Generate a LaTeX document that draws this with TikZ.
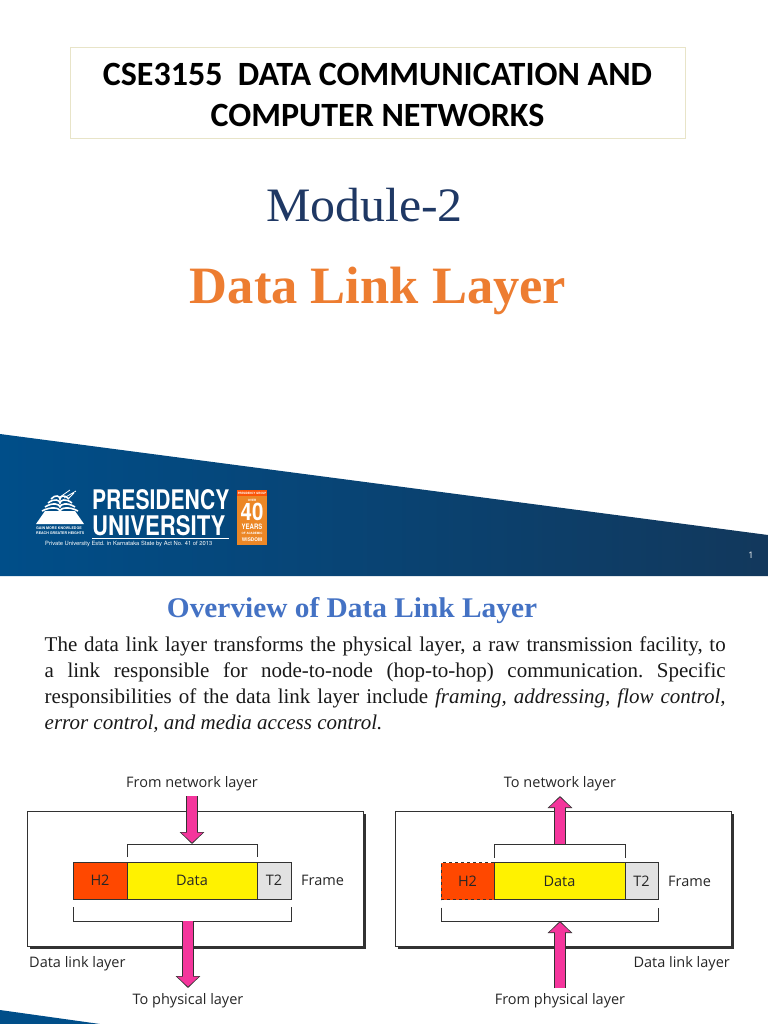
\documentclass[tikz,border=0pt]{standalone}
\usepackage{fontspec}
\setmainfont{Liberation Serif}
\newfontfamily\titlefont{Carlito}
\newfontfamily\labelfont{Open Sans}
\newfontfamily\logofont{TeX Gyre Heros}
\usetikzlibrary{arrows.meta, positioning}
\definecolor{bandleft}{RGB}{0,78,137}
\definecolor{bandright}{RGB}{18,56,92}
\definecolor{titleline}{RGB}{232,228,200}
\definecolor{headblue}{RGB}{68,114,196}
\definecolor{modblue}{RGB}{31,56,100}
\definecolor{layerorange}{RGB}{237,125,49}
\definecolor{logoorange}{RGB}{236,135,38}
\definecolor{arrowpink}{RGB}{244,54,156}
\definecolor{hredd}{RGB}{255,72,0}
\definecolor{tgray}{RGB}{226,226,226}
\definecolor{lineblack}{RGB}{50,50,50}
\newcommand{\logotext}[2]{\scalebox{#1}[1]{\logofont\bfseries #2}}

\begin{document}
\begin{tikzpicture}[
  x=1pt,
  y=-1pt,
  >=Stealth,
  frame cell/.style={
    draw=lineblack,
    line width=1pt,
    minimum height=37pt,
    inner sep=0pt,
    outer sep=0pt,
    text height=10.5pt,
    text depth=0pt,
    text=black!85,
    font=\labelfont\fontsize{14.5}{16}\selectfont
  },
  layer box/.style={
    draw=lineblack,
    fill=white,
    line width=1pt,
    minimum width=336pt,
    minimum height=135pt,
    inner sep=0pt,
    outer sep=0pt
  },
  layer shadow/.style={
    fill=lineblack,
    minimum width=336pt,
    minimum height=135pt,
    inner sep=0pt,
    outer sep=0pt
  },
  bracket line/.style={
    draw=lineblack,
    line width=0.9pt
  },
  block arrow/.style={
    draw=arrowpink,
    line width=9.6pt,
    shorten >=1.4pt,
    -{Triangle[length=10pt,width=21pt,fill=arrowpink]},
    preaction={
      draw=lineblack,
      line width=11.4pt,
      shorten >=0pt,
      -{Triangle[length=12pt,width=24pt,fill=lineblack]}
    }
  },
  layer label/.style={
    inner sep=0pt,
    text height=10.5pt,
    text depth=0pt,
    text=black!85,
    font=\labelfont\fontsize{14.5}{16}\selectfont
  },
  logo text/.style={
    inner sep=0pt,
    text=white
  }
]

\useasboundingbox (0,0) rectangle (768,1024);
\fill[white] (0,0) rectangle (768,1024);

\node[draw=titleline, line width=0.8pt, minimum width=615pt, minimum height=91pt, inner sep=0pt] (titlebox) at (377.5,92.5) {};
\node[align=center, inner sep=0pt, font=\titlefont\bfseries\fontsize{34}{41}\selectfont] (title) at (377.5,94.5)
  {CSE3155\ \ DATA COMMUNICATION AND\\COMPUTER NETWORKS};
\node[anchor=base, text=modblue, inner sep=0pt, font=\fontsize{48}{50}\selectfont] (module) at (364.5,222) {\scalebox{1.04}[1]{Module-2}};
\node[anchor=base, text=layerorange, inner sep=0pt, font=\bfseries\fontsize{52.5}{55}\selectfont] (layer) at (378,303) {Data Link Layer};

\shade[left color=bandleft, right color=bandright] (0,434) -- (768,535) -- (768,576) -- (0,576) -- cycle;
\node[text=white, inner sep=0pt, font=\labelfont\fontsize{9}{10}\selectfont] (page) at (751,555) {1};

\fill[white] (36,524) -- (84,524) -- (75,511) -- (45,511) -- cycle;
\foreach \ypos/\xhalf in {508/18, 504/15, 500/12, 496/9}
  \draw[white, line width=1.6pt] (60-\xhalf,\ypos+3) .. controls (60-\xhalf/2,\ypos-2) and (60,\ypos) .. (60,\ypos+3)
    .. controls (60,\ypos) and (60+\xhalf/2,\ypos-2) .. (60+\xhalf,\ypos+3);
\draw[white, line width=0.8pt] (64,498) -- (76,491) (68,499) -- (74,493) (60,497) -- (70,490);
\node[logo text, anchor=west, font=\fontsize{3.6}{4}\selectfont] (gain) at (36,528.5) {\logotext{1}{GAIN MORE KNOWLEDGE}};
\node[logo text, anchor=west, font=\fontsize{3.6}{4}\selectfont] (reach) at (36,533) {\logotext{1}{REACH GREATER HEIGHTS}};
\node[logo text, anchor=base west, font=\fontsize{27}{27}\selectfont] (presidency) at (92,509) {\logotext{0.78}{PRESIDENCY}};
\node[logo text, anchor=base west, font=\fontsize{27}{27}\selectfont] (university) at (92,535) {\logotext{0.82}{UNIVERSITY}};
\draw[white, line width=0.5pt] (92,538) -- (229,538);
\node[logo text, anchor=west, font=\logofont\fontsize{5.8}{6}\selectfont] (estd) at (45,543.5) {Private University Estd. in Karnataka State by Act No. 41 of 2013};
\fill[logoorange] (237,490) rectangle (267,545);
\fill[hredd!80!logoorange] (237,490) rectangle (267,496);
\node[logo text, font=\fontsize{3}{3.5}\selectfont] (group) at (252,493) {\logotext{0.9}{PRESIDENCY GROUP}};
\node[logo text, font=\fontsize{3}{3.5}\selectfont] (over) at (252,500) {\logotext{1}{OVER}};
\node[logo text, anchor=base, font=\fontsize{24}{24}\selectfont] (forty) at (252,520.5) {\logotext{0.85}{40}};
\node[logo text, anchor=base, font=\fontsize{7.5}{7.5}\selectfont] (years) at (252,529.5) {\logotext{0.8}{YEARS}};
\node[logo text, font=\fontsize{3}{3.5}\selectfont] (academic) at (252,533.5) {\logotext{1}{OF ACADEMIC}};
\node[logo text, anchor=base, font=\fontsize{5}{5}\selectfont] (wisdom) at (252,541) {\logotext{0.95}{WISDOM}};

\fill[bandleft] (0,1010) -- (100,1024) -- (0,1024) -- cycle;

\node[anchor=base, text=headblue, inner sep=0pt, font=\bfseries\fontsize{28.5}{30}\selectfont] (overview) at (352,617) {\scalebox{1.03}[1]{Overview of Data Link Layer}};
\node[anchor=north west, inner sep=0pt, text width=681pt, align=justify, text=black!90, font=\fontsize{21}{25.8}\selectfont] (para) at (44.5,637)
  {\frenchspacing The data link layer transforms the physical layer, a raw transmission facility, to\linebreak a link responsible for node-to-node (hop-to-hop) communication. Specific\linebreak responsibilities of the data link layer include \textit{framing, addressing, flow control,\linebreak error control, and media access control.}};

\node[layer shadow] (shadowA) at (198,881.5) {};
\node[layer box] (boxA) at (195,878.5) {};
\node[frame cell, fill=hredd, minimum width=54pt] (htwoA) at (100,880.5) {H2};
\node[frame cell, fill=yellow, minimum width=130pt, right=0pt of htwoA] (dataA) {Data};
\node[frame cell, fill=tgray, minimum width=34pt, right=0pt of dataA] (ttwoA) {T2};
\node[layer label, right=10pt of ttwoA] (frameA) {Frame};
\node[layer label] (fromnet) at (192,782.5) {From network layer};
\node[layer label, anchor=west] (linkA) at (29,962.5) {Data link layer};
\node[layer label] (tophys) at (188,999.5) {To physical layer};

\coordinate (upA) at (192,796);
\coordinate (capA) at (192,844);
\coordinate (lowA) at (188,921);
\coordinate (endA) at (188,988);
\draw[bracket line] (dataA.north west) ++(0,-5) |- (capA) -| ([yshift=5pt]dataA.north east);
\draw[bracket line] ([yshift=-8pt]htwoA.south west) |- (lowA) -| ([yshift=-8pt]ttwoA.south east);
\draw[block arrow] (upA) -- (capA);
\draw[block arrow] (lowA) -- (endA);

\node[layer shadow] (shadowB) at (566,881.5) {};
\node[layer box] (boxB) at (563,878.5) {};
\node[frame cell, fill=hredd, dashed, minimum width=53pt] (htwoB) at (467.5,881) {H2};
\node[frame cell, fill=yellow, minimum width=131pt, right=0pt of htwoB] (dataB) {Data};
\node[frame cell, fill=tgray, minimum width=33pt, right=0pt of dataB] (ttwoB) {T2};
\node[layer label, right=10pt of ttwoB] (frameB) {Frame};
\node[layer label] (tonet) at (560,782.5) {To network layer};
\node[layer label, anchor=east] (linkB) at (730,962.5) {Data link layer};
\node[layer label] (fromphys) at (560,999.5) {From physical layer};

\coordinate (capB) at (560,844);
\coordinate (endB) at (560,796);
\coordinate (lowB) at (560,921);
\coordinate (startB) at (560,988);
\draw[bracket line] (dataB.north west) ++(0,-5) |- (capB) -| ([yshift=5pt]dataB.north east);
\draw[bracket line] ([yshift=-8pt]htwoB.south west) |- (lowB) -| ([yshift=-8pt]ttwoB.south east);
\draw[block arrow] (capB) -- (endB);
\draw[block arrow] (startB) -- (lowB);

\end{tikzpicture}
\end{document}
